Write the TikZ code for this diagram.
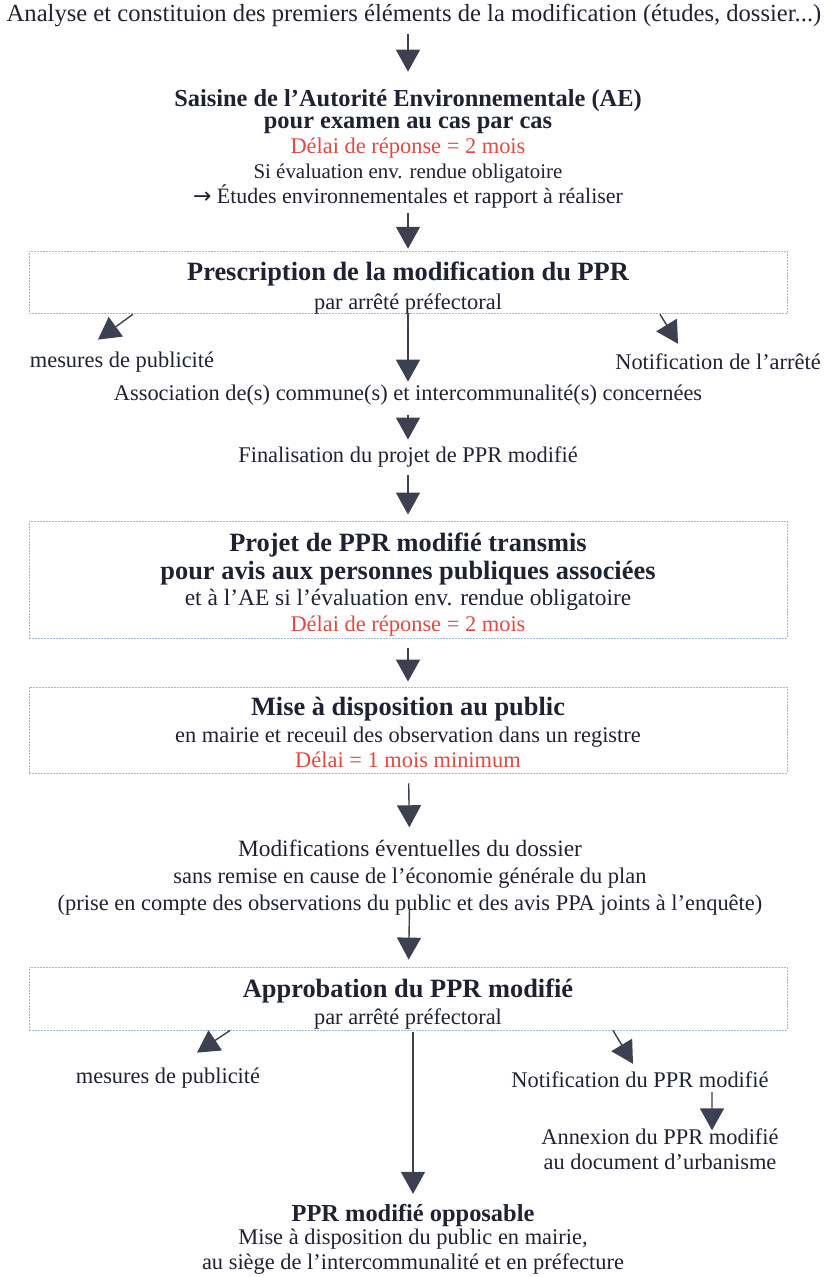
\documentclass[tikz,border=0pt]{standalone}
\usepackage{fontspec}
\setmainfont{Liberation Serif}
\newfontfamily\flechefont{DejaVu Sans}
\usepackage{tikz}
\usetikzlibrary{arrows.meta,positioning}
\usepackage{xcolor}
\definecolor{InkNavy}{HTML}{1F2234}
\definecolor{ArrowInk}{HTML}{3D4050}
\definecolor{DelaiRed}{HTML}{E8473E}
\definecolor{FrameBlue}{HTML}{98B8DC}
\newcommand{\titre}[1]{{\fontsize{26.5}{29}\selectfont\bfseries #1}}
\newcommand{\soustitre}[1]{{\fontsize{24.5}{26}\selectfont\bfseries #1}}
\newcommand{\taille}[2]{{\fontsize{#1}{25}\selectfont #2}}
\newcommand{\delai}[1]{\textcolor{DelaiRed}{#1}}

\begin{document}
\begin{tikzpicture}[x=1bp,y=-1bp,
    txt/.style={text=InkNavy, inner sep=0pt, align=center, font=\fontsize{22.5}{25}\selectfont},
    cadre/.style={txt, draw=FrameBlue, line width=0.8bp, dash pattern=on 2bp off 1bp, minimum width=758bp},
    flow/.style={-{Triangle[width=24bp,length=22bp]}, line width=1.4bp, draw=ArrowInk}]
  \fill[white] (0,0) rectangle (828,1277);
  \useasboundingbox (0,0) rectangle (828,1277);
  % etapes
  \node[txt] (analyse) at (414,15) {\taille{24.7}{Analyse et constituion des premiers éléments de la modification (études, dossier...)}};
  \node[txt] (saisine) at (408,149) {\soustitre{Saisine de l’Autorité Environnementale (AE)}\\[-3bp]
    \soustitre{pour examen au cas par cas}\\ \delai{Délai de réponse = 2 mois}\\
    \taille{21}{Si évaluation env. rendue obligatoire}\\ \taille{22}{{\flechefont →} Études environnementales et rapport à réaliser}};
  \node[cadre, minimum height=61bp] (prescr) at (408,282.5) {\rule{0pt}{29bp}\titre{Prescription de la modification du PPR}\\[4bp]
    par arrêté préfectoral};
  \node[txt] (pub1) at (122,362) {mesures de publicité};
  \node[txt] (notif1) at (718,362) {Notification de l’arrêté};
  \node[txt] (assoc) at (408,395) {Association de(s) commune(s) et intercommunalité(s) concernées};
  \node[txt] (final) at (408,457) {Finalisation du projet de PPR modifié};
  \node[cadre, minimum height=117bp] (projet) at (408,579.5) {\rule{0pt}{29bp}\titre{Projet de PPR modifié transmis}\\[3bp]
    \titre{pour avis aux personnes publiques associées}\\[1bp]
    \taille{23.5}{et à l’AE si l’évaluation env. rendue obligatoire}\\[2bp] \delai{Délai de réponse = 2 mois}};
  \node[cadre, minimum height=86bp] (dispo) at (408,730) {\rule{0pt}{23bp}\titre{Mise à disposition au public}\\[2bp]
    en mairie et receuil des observation dans un registre\\ \delai{Délai = 1 mois minimum}};
  \node[txt] (modif) at (410,878) {\taille{23.5}{Modifications éventuelles du dossier}\\[2bp]
    sans remise en cause de l’économie générale du plan\\[2bp]
    (prise en compte des observations du public et des avis PPA joints à l’enquête)};
  \node[cadre, minimum height=63bp] (appro) at (408,998.5) {\rule{0pt}{29bp}\titre{Approbation du PPR modifié}\\[2bp]
    par arrêté préfectoral};
  \node[txt] (pub2) at (168,1078) {mesures de publicité};
  \node[txt] (notif2) at (640,1080) {Notification du PPR modifié};
  \node[txt] (annex) at (660,1149) {Annexion du PPR modifié\\ au document d’urbanisme};
  \node[txt] (oppos) at (413,1239) {\soustitre{PPR modifié opposable}\\[-2bp]
    Mise à disposition du public en mairie,\\ au siège de l’intercommunalité et en préfecture};
  % fleches
  \draw[flow, shorten <=7bp, shorten >=18bp] (analyse.south -| saisine.north) -- (saisine.north);
  \draw[flow, shorten <=5bp, shorten >=2bp] (saisine) -- (prescr);
  \draw[flow, shorten >=3bp] (prescr) -- (assoc);
  \draw[flow, shorten <=10bp, shorten >=7bp] (assoc) -- (final);
  \draw[flow, shorten <=8bp, shorten >=6bp] (final) -- (projet);
  \draw[flow, shorten <=10bp, shorten >=5bp] (projet) -- (dispo);
  \draw[flow, shorten <=10bp, shorten >=13bp] (dispo) -- (modif);
  \draw[flow, shorten <=-8bp, shorten >=7bp] (modif) -- (appro);
  \draw[flow, shorten <=2bp, shorten >=10bp] (appro.south -| oppos.north) -- (oppos.north);
  \draw[flow] ([xshift=-275bp]prescr.south) -- ([xshift=-24bp,yshift=12bp]pub1.north);
  \draw[flow] ([xshift=252bp]prescr.south) -- ([xshift=-40bp,yshift=10bp]notif1.north);
  \draw[flow] ([xshift=-178bp]appro.south) -- ([xshift=29bp,yshift=15bp]pub2.north);
  \draw[flow] ([xshift=205bp]appro.south) -- ([xshift=-7bp,yshift=8bp]notif2.north);
  \draw[flow, shorten <=4bp] ([xshift=72bp]notif2.south) -- ([xshift=52bp,yshift=-2bp]annex.north);
\end{tikzpicture}
\end{document}
